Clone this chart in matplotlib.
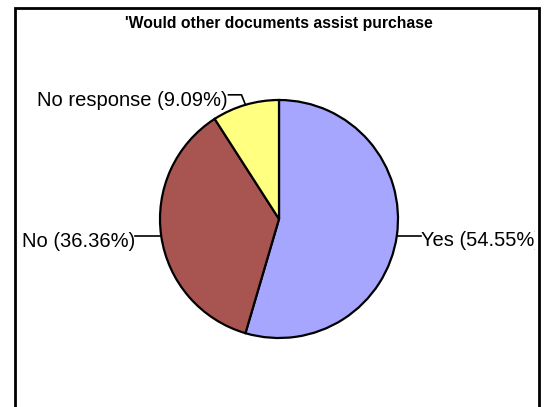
import matplotlib.pyplot as plt
import matplotlib.patches as mpatches
from matplotlib.transforms import Bbox, TransformedBbox
import numpy as np

plt.rcParams['font.family'] = ['Liberation Sans', 'DejaVu Sans']

title = "'Would other documents assist purchase"
labels = ['Yes', 'No', 'No response']
values = [54.55, 36.36, 9.09]
colors = ['#a6a6ff', '#a85552', '#ffff80']

W, H = 545, 407
fig = plt.figure(figsize=(W / 100, H / 100), dpi=100)
ax = fig.add_axes([0, 0, 1, 1])
ax.set_xlim(0, W)
ax.set_ylim(0, H)
ax.set_aspect('equal')
ax.axis('off')

# outer frame (open at the bottom)
frame = mpatches.Rectangle((14.5, -20), 524, H - 7.5 + 20, fill=False,
                           edgecolor='black', linewidth=2)
ax.add_patch(frame)

ax.text(279, H - 28, title, ha='center', va='baseline',
        fontsize=11.3, fontweight='bold')

cx, cy, r = 279, H - 219, 119
wedges, _ = ax.pie(values, colors=colors, startangle=90, counterclock=False,
                   center=(cx, cy), radius=r,
                   wedgeprops=dict(edgecolor='black', linewidth=1.6))
ax.set_xlim(0, W)
ax.set_ylim(0, H)

# labels running past the frame get cut off at its edge
inner = TransformedBbox(Bbox([[15, 0], [535, H - 8]]), ax.transData)
fs = 14.5

for w, lab, v in zip(wedges, labels, values):
    mid = np.deg2rad((w.theta1 + w.theta2) / 2)
    px, py = cx + r * np.cos(mid), cy + r * np.sin(mid)
    txt = f'{lab} ({v:.2f}%)'
    if lab == 'No response':
        ax.plot([px, px - 4, px - 17], [py, py + 10, py + 10],
                color='black', lw=1.2)
        ax.text(px - 18, py - 1, txt, ha='right', va='baseline', fontsize=fs)
    elif np.cos(mid) > 0:
        ax.plot([px, px + 24], [py, py], color='black', lw=1.2)
        t = ax.text(px + 24, py - 10, txt, ha='left', va='baseline',
                    fontsize=fs)
        t.set_clip_box(inner)
        t.set_clip_on(True)
    else:
        ax.plot([px, px - 26], [py, py], color='black', lw=1.2)
        ax.text(px - 26, py - 11, txt, ha='right', va='baseline', fontsize=fs)

fig.savefig('out.png', dpi=100)
